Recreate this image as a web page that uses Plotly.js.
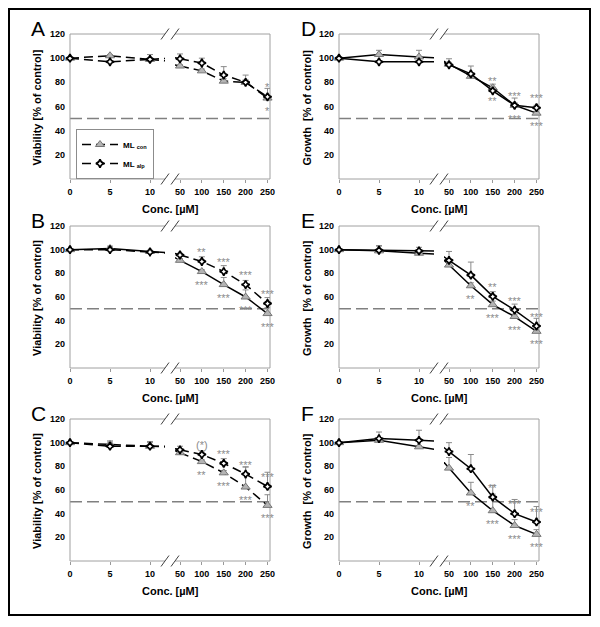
<!DOCTYPE html>
<html>
<head>
<meta charset="utf-8">
<script src="https://cdn.plot.ly/plotly-3.0.1.min.js"></script>
<style>html,body{margin:0;padding:0;background:#fff}#chart{width:600px;height:627px}</style>
</head>
<body>
<div id="chart"></div>
<script>
// ---------- data ----------
const conc = [0, 5, 10, 50, 100, 150, 200, 250];
const xTicksLeft = [0, 5, 10];
const xTicksRight = [50, 100, 150, 200, 250];
const yTickVals = [20, 40, 60, 80, 100, 120];
const seriesNames = ['ML <sub>con</sub>', 'ML <sub>alp</sub>'];
const xTitle = 'Conc. [µM]';
const letters = ['A', 'B', 'C', 'D', 'E', 'F'];
const yTitles = ['Viability [% of control]', 'Viability [% of control]', 'Viability [% of control]',
                 'Growth  [% of control]', 'Growth  [% of control]', 'Growth  [% of control]'];

const A_con = [100, 102, 99, 93.5, 89.5, 81, 80, 67];
const A_alp = [100, 97, 99, 99.5, 96, 86, 80, 68];
const A_con_err = [0, 1, 1, 1, 1.5, 2, 2, 3];
const A_alp_err = [0, 1, 4, 4, 4, 7, 6, 7];
const A_con_sig = ['', '', '', '', '', '', '', '*'];
const A_alp_sig = ['', '', '', '', '', '', '', '*'];

const B_con = [100, 101, 98.5, 91, 81.5, 70.5, 60, 46];
const B_alp = [100, 100, 98, 95.5, 90, 81.5, 70.5, 54.5];
const B_con_err = [0, 2, 1, 1.5, 1.5, 6, 6, 5];
const B_alp_err = [0, 2, 1, 1.5, 4, 5, 3.5, 5];
const B_con_sig = ['', '', '', '', '***', '***', '***', '***'];
const B_alp_sig = ['', '', '', '', '**', '***', '***', '***'];

const C_con = [100, 98.5, 97, 91.5, 84, 74.5, 62.5, 47];
const C_alp = [100, 97, 97, 94, 90, 82.5, 73.5, 63];
const C_con_err = [0, 3, 3, 2, 1.5, 2, 17, 9];
const C_alp_err = [0, 3.5, 4, 3, 3, 4, 6, 12];
const C_con_sig = ['', '', '', '', '**', '***', '***', '***'];
const C_alp_sig = ['', '', '', '', '(*)', '***', '***', '***'];

const D_con = [100, 103, 101, 95, 85, 75.5, 61, 54.5];
const D_alp = [100, 97, 97, 94.5, 87, 73, 61, 59];
const D_con_err = [0, 3.5, 5.5, 1.5, 2, 3, 2, 1.5];
const D_alp_err = [0, 1, 1, 5, 6.5, 1.5, 6, 2];
const D_con_sig = ['', '', '', '', '', '**', '***', '***'];
const D_alp_sig = ['', '', '', '', '', '**', '***', '***'];

const E_con = [100, 99, 97, 87, 69.5, 53.5, 43.5, 31];
const E_alp = [100, 99.5, 99, 91, 78.5, 60.5, 49, 35.5];
const E_con_err = [0, 4, 3, 2, 2.5, 3, 2, 2];
const E_alp_err = [0, 4, 3, 7.5, 11, 4, 5, 6.5];
const E_con_sig = ['', '', '', '', '**', '***', '***', '***'];
const E_alp_sig = ['', '', '', '', '', '**', '***', '***'];

const F_con = [100, 102, 96.5, 78.5, 57.5, 42.5, 30, 22.5];
const F_alp = [100, 103.5, 102, 92.5, 78, 54, 40, 33];
const F_con_err = [0, 1.5, 1, 9, 9, 14, 5, 4];
const F_alp_err = [0, 5.5, 8.5, 7.5, 12, 10, 12, 13];
const F_con_sig = ['', '', '', '', '**', '***', '***', '***'];
const F_alp_sig = ['', '', '', '', '', '**', '***', '***'];

// ---------- build ----------
const FONT = 'Liberation Sans, Arial, Helvetica, sans-serif';
const DASH = '9px,5px';
const panels = [
  {con: A_con, alp: A_alp, conErr: A_con_err, alpErr: A_alp_err, conSig: A_con_sig, alpSig: A_alp_sig, conDash: DASH, alpDash: DASH},
  {con: B_con, alp: B_alp, conErr: B_con_err, alpErr: B_alp_err, conSig: B_con_sig, alpSig: B_alp_sig, conDash: 'solid', alpDash: DASH},
  {con: C_con, alp: C_alp, conErr: C_con_err, alpErr: C_alp_err, conSig: C_con_sig, alpSig: C_alp_sig, conDash: DASH, alpDash: DASH},
  {con: D_con, alp: D_alp, conErr: D_con_err, alpErr: D_alp_err, conSig: D_con_sig, alpSig: D_alp_sig, conDash: 'solid', alpDash: 'solid'},
  {con: E_con, alp: E_alp, conErr: E_con_err, alpErr: E_alp_err, conSig: E_con_sig, alpSig: E_alp_sig, conDash: 'solid', alpDash: 'solid'},
  {con: F_con, alp: F_alp, conErr: F_con_err, alpErr: F_alp_err, conSig: F_con_sig, alpSig: F_alp_sig, conDash: 'solid', alpDash: 'solid'}
];

const W = 600, H = 627;
const colL = [70, 339];
const rowT = [34, 226, 419];
const rowB = [179, 368, 561];
const PW = 200, LW = 95, GAP = 10;
const leftPxPerUnit = 8;
const rightPxPerUnit = 87.5 / 200;
const px = v => v / W;
const py = v => 1 - v / H;

const markerCon = {symbol: 'triangle-up', size: 8, color: '#b4b4b4', line: {color: '#777', width: 1}};
const markerAlp = {symbol: 'star-diamond', size: 6, color: '#ffffff', line: {color: '#000', width: 1.6}};
const errStyle = {color: '#8a8a8a', thickness: 1, width: 3};

const traces = [];
const layout = {
  width: W, height: H, margin: {l: 0, r: 0, t: 0, b: 0},
  paper_bgcolor: '#fff', plot_bgcolor: '#fff',
  font: {family: FONT, color: '#000'},
  showlegend: true,
  legend: {x: px(76), y: py(129), xanchor: 'left', yanchor: 'top', bgcolor: '#fff',
           bordercolor: '#8c8c8c', borderwidth: 1, font: {size: 8, weight: 'bold', family: FONT},
           itemwidth: 36, tracegroupgap: 0},
  shapes: [], annotations: []
};

// outer border
layout.shapes.push({type: 'rect', xref: 'paper', yref: 'paper', x0: px(9), x1: px(590), y0: py(615), y1: py(9),
  line: {color: '#000', width: 2}, layer: 'above'});

panels.forEach((P, p) => {
  const col = Math.floor(p / 3), row = p % 3;
  const L = colL[col], T = rowT[row], B = rowB[row];
  const xl = 2 * p + 1, xr = 2 * p + 2, yi = p + 1;
  const xlRef = xl === 1 ? 'x' : 'x' + xl, xrRef = 'x' + xr, yRef = yi === 1 ? 'y' : 'y' + yi;
  const xlName = xl === 1 ? 'xaxis' : 'xaxis' + xl, xrName = 'xaxis' + xr, yName = yi === 1 ? 'yaxis' : 'yaxis' + yi;
  const tickfont = {size: 9, weight: 'bold', family: FONT, color: '#000'};
  const rStart = 50 - 5 / rightPxPerUnit;
  layout[xlName] = {domain: [px(L), px(L + LW)], range: [0, LW / leftPxPerUnit], anchor: yRef,
    tickvals: xTicksLeft, ticktext: xTicksLeft.map(String), ticks: 'outside', ticklen: 3, tickcolor: '#999',
    tickfont, showgrid: false, zeroline: false, showline: false, fixedrange: true, ticklabelstandoff: 1};
  layout[xrName] = {domain: [px(L + LW + GAP), px(L + PW)], range: [rStart, rStart + (PW - LW - GAP) / rightPxPerUnit], anchor: yRef,
    tickvals: xTicksRight, ticktext: xTicksRight.map(String), ticks: 'outside', ticklen: 3, tickcolor: '#999',
    tickfont, showgrid: false, zeroline: false, showline: false, fixedrange: true, ticklabelstandoff: 1};
  layout[yName] = {domain: [py(B), py(T)], range: [0, 120], anchor: xlRef,
    tickvals: yTickVals, ticktext: yTickVals.map(String), ticks: '', tickfont,
    showgrid: false, zeroline: false, showline: false, fixedrange: true, ticklabelstandoff: 4};

  const series = [
    {vals: P.con, err: P.conErr, sig: P.conSig, dash: P.conDash, marker: markerCon, name: seriesNames[0], above: false},
    {vals: P.alp, err: P.alpErr, sig: P.alpSig, dash: P.alpDash, marker: markerAlp, name: seriesNames[1], above: true}
  ];
  series.forEach(S => {
    const line = {color: '#000', width: 1.5, dash: S.dash};
    // extension stubs (extrapolated from neighbouring segment) toward the axis break
    const sl = (S.vals[2] - S.vals[1]) / (conc[2] - conc[1]);
    traces.push({x: [conc[2], conc[2] + 5], y: [S.vals[2], S.vals[2] + sl * 5], xaxis: xlRef, yaxis: yRef,
      mode: 'lines', line, showlegend: false, hoverinfo: 'skip', cliponaxis: true});
    const sr = (S.vals[4] - S.vals[3]) / (conc[4] - conc[3]);
    traces.push({x: [conc[3] - 25, conc[3]], y: [S.vals[3] - sr * 25, S.vals[3]], xaxis: xrRef, yaxis: yRef,
      mode: 'lines', line, showlegend: false, hoverinfo: 'skip', cliponaxis: true});
    // left segment
    traces.push({x: conc.slice(0, 3), y: S.vals.slice(0, 3), xaxis: xlRef, yaxis: yRef, mode: 'lines+markers',
      name: S.name, line, marker: S.marker, cliponaxis: false, showlegend: p === 0, legendgroup: S.name,
      error_y: Object.assign({type: 'data', symmetric: false, array: S.err.slice(0, 3), arrayminus: S.err.slice(0, 3).map(() => 0)}, errStyle)});
    // right segment
    traces.push({x: conc.slice(3), y: S.vals.slice(3), xaxis: xrRef, yaxis: yRef, mode: 'lines+markers',
      name: S.name, line, marker: S.marker, cliponaxis: false, showlegend: false,
      error_y: Object.assign({type: 'data', symmetric: false, array: S.err.slice(3), arrayminus: S.err.slice(3).map(() => 0)}, errStyle)});
    // significance labels
    S.sig.forEach((t, i) => {
      if (!t) return;
      layout.annotations.push({x: conc[i], y: S.vals[i] + (S.above ? 8 : -11), xref: i < 3 ? xlRef : xrRef, yref: yRef,
        text: t, showarrow: false, font: {size: 11, color: '#8c8c8c', family: FONT}, xanchor: 'center', yanchor: 'middle'});
    });
  });

  // 50% reference line
  layout.shapes.push({type: 'line', xref: 'paper', yref: yRef, x0: px(L), x1: px(L + PW), y0: 50, y1: 50,
    line: {color: '#808080', width: 1.5, dash: '12px,5px'}, layer: 'below'});
  // frame
  const fr = {color: '#a0a0a0', width: 1};
  const seg = (x0, y0, x1, y1, line) => layout.shapes.push({type: 'line', xref: 'paper', yref: 'paper',
    x0: px(x0), y0: py(y0), x1: px(x1), y1: py(y1), line, layer: 'below'});
  seg(L, T, L, B, fr);
  seg(L + PW, T, L + PW, B, fr);
  seg(L, T, L + LW, T, fr);
  seg(L + LW + GAP, T, L + PW, T, fr);
  seg(L, B, L + LW, B, fr);
  seg(L + LW + GAP, B, L + PW, B, fr);
  // break marks
  const bk = {color: '#404040', width: 1};
  [T, B].forEach(yy => {
    seg(L + LW - 4, yy + 5.5, L + LW + 4, yy - 5.5, bk);
    seg(L + LW + GAP - 4, yy + 5.5, L + LW + GAP + 4, yy - 5.5, bk);
  });

  // panel letter, axis titles
  layout.annotations.push({x: px(col === 0 ? 29 : 299), y: py(T - 6), xref: 'paper', yref: 'paper', text: letters[p],
    showarrow: false, xanchor: 'left', yanchor: 'middle', font: {size: 21, family: FONT, color: '#000'}});
  layout.annotations.push({x: px(col === 0 ? 37 : 307), y: py((T + B) / 2 + 1), xref: 'paper', yref: 'paper', text: yTitles[p],
    textangle: -90, showarrow: false, xanchor: 'center', yanchor: 'middle', font: {size: 11, weight: 'bold', family: FONT, color: '#000'}});
  layout.annotations.push({x: px(L + PW / 2), y: py(B + 30), xref: 'paper', yref: 'paper', text: xTitle,
    showarrow: false, xanchor: 'center', yanchor: 'middle', font: {size: 11, weight: 'bold', family: FONT, color: '#000'}});
});

Plotly.newPlot('chart', traces, layout, {staticPlot: true, displayModeBar: false});
</script>
</body>
</html>
